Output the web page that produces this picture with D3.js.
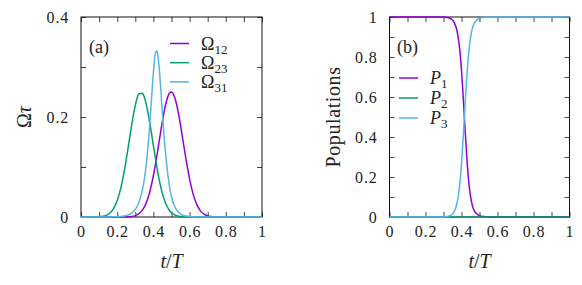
<!DOCTYPE html>
<html>
<head>
<meta charset="utf-8">
<style>
  body { margin: 0; background: #fff; }
  svg { display: block; }
  text { font-family: "Liberation Serif", "DejaVu Serif", serif; fill: #222; }
</style>
</head>
<body>
<script src="https://d3js.org/d3.v7.min.js"></script>
<script>
// ---- data ----
// panel (a): pulse amplitudes vs t/T
const tA = [0, 0.05, 0.10, 0.12, 0.14, 0.16, 0.18, 0.20, 0.22, 0.24, 0.26, 0.28, 0.30, 0.32, 0.34,
            0.35, 0.36, 0.37, 0.38, 0.39, 0.40, 0.41, 0.42, 0.43, 0.44, 0.45, 0.46, 0.47, 0.48, 0.49,
            0.50, 0.52, 0.54, 0.56, 0.58, 0.60, 0.62, 0.64, 0.66, 0.68, 0.70, 0.72, 0.74, 0.76, 0.78, 0.80,
            0.85, 0.90, 0.95, 1.00];
const omega12 = [0, 0, 0, 0, 0, 0, 0, 0, 0, 0.0001, 0.0004, 0.0011, 0.0028, 0.0066, 0.0142,
                 0.0202, 0.0281, 0.0381, 0.0506, 0.0655, 0.0830, 0.1028, 0.1244, 0.1470, 0.1699, 0.1919, 0.2118, 0.2285, 0.2409, 0.2482,
                 0.2499, 0.2365, 0.2042, 0.1608, 0.1156, 0.0757, 0.0453, 0.0247, 0.0123, 0.0056, 0.0023, 0.0009, 0.0003, 0.0001, 0, 0,
                 0, 0, 0, 0];
const omega23 = [0, 0, 0.0005, 0.0013, 0.0033, 0.0079, 0.0168, 0.0328, 0.0582, 0.0938, 0.1377, 0.1838, 0.2231, 0.2464, 0.2476,
                 0.2396, 0.2263, 0.2088, 0.1882, 0.1656, 0.1423, 0.1195, 0.0979, 0.0784, 0.0613, 0.0468, 0.0349, 0.0254, 0.0181, 0.0125,
                 0.0085, 0.0037, 0.0014, 0.0005, 0.0002, 0, 0, 0, 0, 0, 0, 0, 0, 0, 0, 0,
                 0, 0, 0, 0];
const omega31 = [0, 0, 0, 0, 0.0001, 0.0002, 0.0003, 0.0006, 0.0012, 0.0022, 0.0042, 0.0080, 0.0153, 0.0292, 0.0553,
                 0.0760, 0.1036, 0.1399, 0.1854, 0.2379, 0.2894, 0.3256, 0.3324, 0.3067, 0.2593, 0.2058, 0.1571, 0.1170, 0.0840, 0.0580,
                 0.0400, 0.0190, 0.0090, 0.0040, 0.0020, 0.0010, 0.0005, 0.0002, 0.0001, 0, 0, 0, 0, 0, 0, 0,
                 0, 0, 0, 0];

// panel (b): populations vs t/T
const tB = [0, 0.1, 0.2, 0.25, 0.30, 0.32, 0.34, 0.35, 0.36, 0.37, 0.38, 0.39, 0.40, 0.41, 0.42,
            0.43, 0.44, 0.45, 0.46, 0.47, 0.48, 0.49, 0.50, 0.52, 0.55, 0.60, 0.70, 0.80, 0.90, 1.0];
const pop1 = [1, 1, 1, 1, 0.9994, 0.9977, 0.9919, 0.9849, 0.9719, 0.9484, 0.9070, 0.8383, 0.7336, 0.5938, 0.4370,
              0.2919, 0.1796, 0.1042, 0.0582, 0.0330, 0.0200, 0.0120, 0.0070, 0.0020, 0.0003, 0, 0, 0, 0, 0];
const pop2 = [0, 0, 0, 0, 0, 0, 0, 0, 0, 0, 0, 0, 0, 0, 0,
              0, 0, 0, 0, 0, 0, 0, 0, 0, 0, 0, 0, 0, 0, 0];
const pop3 = [0, 0, 0, 0, 0.0006, 0.0023, 0.0081, 0.0151, 0.0281, 0.0516, 0.0930, 0.1617, 0.2664, 0.4062, 0.5630,
              0.7081, 0.8204, 0.8958, 0.9418, 0.9670, 0.9800, 0.9880, 0.9930, 0.9980, 0.9997, 1, 1, 1, 1, 1];

const xTicks = [0, 0.1, 0.2, 0.3, 0.4, 0.5, 0.6, 0.7, 0.8, 0.9, 1];
const xLabels = ["0", "", "0.2", "", "0.4", "", "0.6", "", "0.8", "", "1"];
const yTicksA = [0, 0.1, 0.2, 0.3, 0.4];
const yLabelsA = ["0", "", "0.2", "", "0.4"];
const yTicksB = [0, 0.1, 0.2, 0.3, 0.4, 0.5, 0.6, 0.7, 0.8, 0.9, 1];
const yLabelsB = ["0", "", "0.2", "", "0.4", "", "0.6", "", "0.8", "", "1"];

const namesA = [["Ω", "12"], ["Ω", "23"], ["Ω", "31"]];
const namesB = [["P", "1"], ["P", "2"], ["P", "3"]];
const colors = ["#9400d3", "#009e73", "#56b4e9"];

// ---- drawing ----
const width = 582, height = 285;
const svg = d3.select("body").append("svg")
    .attr("width", width)
    .attr("height", height);

function drawPanel(box, yMax, yTicks, yLabels, series, tvals) {
    const x = d3.scaleLinear().domain([0, 1]).range([box.left, box.right]);
    const y = d3.scaleLinear().domain([0, yMax]).range([box.bottom, box.top]);
    const g = svg.append("g");

    const fmtX = (d, i) => xLabels[i];
    const fmtY = (d, i) => yLabels[i];

    const axes = [
        g.append("g").attr("transform", `translate(0,${box.bottom})`)
            .call(d3.axisBottom(x).tickValues(xTicks).tickFormat(fmtX).tickSizeInner(-5).tickSizeOuter(0).tickPadding(9)),
        g.append("g").attr("transform", `translate(0,${box.top})`)
            .call(d3.axisTop(x).tickValues(xTicks).tickFormat("").tickSizeInner(-5).tickSizeOuter(0)),
        g.append("g").attr("transform", `translate(${box.left},0)`)
            .call(d3.axisLeft(y).tickValues(yTicks).tickFormat(fmtY).tickSizeInner(-5).tickSizeOuter(0).tickPadding(12)),
        g.append("g").attr("transform", `translate(${box.right},0)`)
            .call(d3.axisRight(y).tickValues(yTicks).tickFormat("").tickSizeInner(-5).tickSizeOuter(0))
    ];
    axes.forEach(a => {
        a.select(".domain").remove();
        a.selectAll(".tick line").attr("stroke", "#444");
        a.selectAll(".tick text")
            .attr("font-family", "Liberation Serif")
            .attr("font-size", 16)
            .attr("letter-spacing", 0.8)
            .attr("fill", "#222");
    });

    g.append("rect")
        .attr("x", box.left).attr("y", box.top)
        .attr("width", box.right - box.left).attr("height", box.bottom - box.top)
        .attr("fill", "none").attr("stroke", "#111").attr("stroke-width", 1);

    const line = d3.line()
        .x((d, i) => x(tvals[i]))
        .y(d => y(d))
        .curve(d3.curveMonotoneX);

    series.forEach((s, k) => {
        g.append("path")
            .datum(s)
            .attr("fill", "none")
            .attr("stroke", colors[k])
            .attr("stroke-width", 1.5)
            .attr("d", line);
    });

    // x axis title
    const xt = g.append("text")
        .attr("x", (box.left + box.right) / 2)
        .attr("y", 268)
        .attr("text-anchor", "middle")
        .attr("font-size", 20);
    xt.append("tspan").attr("font-style", "italic").text("t");
    xt.append("tspan").text("/");
    xt.append("tspan").attr("font-style", "italic").text("T");
    return g;
}

function legend(g, lx, ly, gap, names) {
    names.forEach((n, k) => {
        const yy = ly + k * gap;
        g.append("line")
            .attr("x1", lx).attr("x2", lx + 19)
            .attr("y1", yy).attr("y2", yy)
            .attr("stroke", colors[k]).attr("stroke-width", 1.5);
        const t = g.append("text")
            .attr("x", lx + 31).attr("y", yy + 6)
            .attr("font-size", 18);
        t.append("tspan").attr("font-style", n[0] === "P" ? "italic" : "normal").text(n[0]);
        t.append("tspan").attr("font-size", 13).attr("dy", 4).text(n[1]);
    });
}

// panel (a)
const boxA = {left: 81, right: 262, top: 17, bottom: 217};
const gA = drawPanel(boxA, 0.4, yTicksA, yLabelsA, [omega12, omega23, omega31], tA);
gA.append("text").attr("x", 89).attr("y", 53).attr("font-size", 18).text("(a)");
legend(gA, 170, 43.5, 19.2, namesA);
const ylA = gA.append("text")
    .attr("transform", "translate(31,117) rotate(-90)")
    .attr("text-anchor", "middle")
    .attr("font-size", 20);
ylA.append("tspan").text("Ω");
ylA.append("tspan").attr("font-style", "italic").text("τ");

// panel (b)
const boxB = {left: 389.5, right: 569.5, top: 17, bottom: 217};
const gB = drawPanel(boxB, 1, yTicksB, yLabelsB, [pop1, pop2, pop3], tB);
gB.append("text").attr("x", 397).attr("y", 53).attr("font-size", 18).text("(b)");
legend(gB, 399, 78, 20, namesB);
gB.append("text")
    .attr("transform", "translate(340,117) rotate(-90)")
    .attr("text-anchor", "middle")
    .attr("font-size", 20)
    .attr("letter-spacing", 0.6)
    .text("Populations");
</script>
</body>
</html>
